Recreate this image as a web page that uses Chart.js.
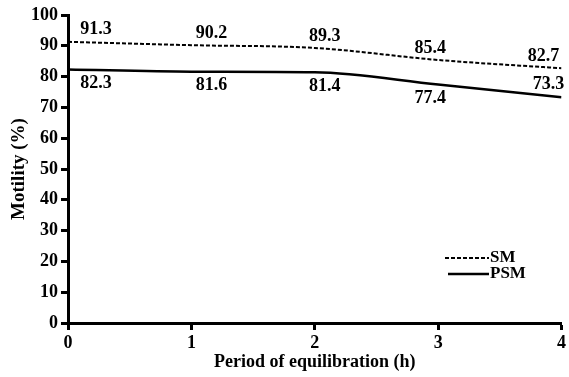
<!DOCTYPE html>
<html>
<head>
<meta charset="utf-8">
<script src="https://cdn.jsdelivr.net/npm/chart.js@4"></script>
<style>
  html, body { margin: 0; padding: 0; background: #fff; }
  #wrap { width: 569px; height: 377px; }
</style>
</head>
<body>
<div id="wrap"><canvas id="chart" width="569" height="377"></canvas></div>
<script>
const hours = [0, 1, 2, 3, 4];
const smValues = [91.3, 90.2, 89.3, 85.4, 82.7];
const psmValues = [82.3, 81.6, 81.4, 77.4, 73.3];
const yTicks = [0, 10, 20, 30, 40, 50, 60, 70, 80, 90, 100];

const FONT = 'Liberation Serif';

// value labels next to each point
const pointLabels = {
  id: 'pointLabels',
  afterDatasetsDraw(chart) {
    const { ctx } = chart;
    const x = chart.scales.x, y = chart.scales.y;
    ctx.save();
    ctx.fillStyle = '#000';
    ctx.font = 'bold 18px "' + FONT + '"';
    ctx.textAlign = 'center';
    ctx.textBaseline = 'middle';
    const dx = [28, 20, 10, -8, -18];
    smValues.forEach((v, i) => {
      ctx.fillText(v.toFixed(1), x.getPixelForValue(hours[i]) + dx[i], y.getPixelForValue(v) - 12);
    });
    psmValues.forEach((v, i) => {
      const above = i === hours.length - 1;
      ctx.fillText(v.toFixed(1), x.getPixelForValue(hours[i]) + dx[i] + (above ? 5 : 0),
        y.getPixelForValue(v) + (above ? -13 : 14));
    });
    ctx.restore();
  }
};

// legend inside the plot, lower right
const insideLegend = {
  id: 'insideLegend',
  afterDraw(chart) {
    const { ctx } = chart;
    ctx.save();
    ctx.font = 'bold 17px "' + FONT + '"';
    ctx.fillStyle = '#000';
    ctx.textBaseline = 'middle';
    chart.data.datasets.forEach((ds, i) => {
      const yy = 258 + i * 16;
      ctx.strokeStyle = '#000';
      ctx.lineWidth = ds.borderWidth;
      ctx.setLineDash(ds.borderDash || []);
      ctx.beginPath();
      ctx.moveTo(445 + i * 3, yy);
      ctx.lineTo(489, yy);
      ctx.stroke();
      ctx.setLineDash([]);
      ctx.fillText(ds.label, 490, yy);
    });
    ctx.restore();
  }
};

const axisGrid = {
  display: true,
  drawOnChartArea: false,
  drawTicks: true,
  tickLength: 7,
  tickWidth: 3,
  tickColor: '#000'
};

new Chart(document.getElementById('chart'), {
  type: 'line',
  data: {
    datasets: [
      {
        label: 'SM',
        data: hours.map((h, i) => ({ x: h, y: smValues[i] })),
        borderColor: '#000',
        borderWidth: 2,
        borderDash: [4, 2],
        pointRadius: 0,
        cubicInterpolationMode: 'monotone',
        fill: false
      },
      {
        label: 'PSM',
        data: hours.map((h, i) => ({ x: h, y: psmValues[i] })),
        borderColor: '#000',
        borderWidth: 2.5,
        pointRadius: 0,
        cubicInterpolationMode: 'monotone',
        fill: false
      }
    ]
  },
  options: {
    responsive: false,
    animation: false,
    layout: { padding: { top: 15, right: 3, left: 0, bottom: 0 } },
    plugins: {
      legend: { display: false },
      tooltip: { enabled: false }
    },
    scales: {
      x: {
        type: 'linear',
        min: 0,
        max: 4,
        afterFit(scale) { scale.height = 54; },
        afterBuildTicks(scale) { scale.ticks = hours.map(v => ({ value: v })); },
        grid: axisGrid,
        border: { color: '#000', width: 3 },
        ticks: { color: '#000', font: { family: FONT, size: 18, weight: 'bold' }, padding: 3, maxRotation: 0 },
        title: { display: true, text: 'Period of equilibration (h)', color: '#000', font: { family: FONT, size: 18, weight: 'bold' }, padding: { top: 0 } }
      },
      y: {
        min: 0,
        max: 100,
        afterFit(scale) { scale.width = 68; },
        afterBuildTicks(scale) { scale.ticks = yTicks.map(v => ({ value: v })); },
        grid: axisGrid,
        border: { color: '#000', width: 3 },
        ticks: { color: '#000', font: { family: FONT, size: 18, weight: 'bold' }, padding: 3 },
        title: { display: true, text: 'Motility (%)', color: '#000', font: { family: FONT, size: 19, weight: 'bold' }, padding: { top: 8, bottom: 0 } }
      }
    }
  },
  plugins: [pointLabels, insideLegend]
});
</script>
</body>
</html>
